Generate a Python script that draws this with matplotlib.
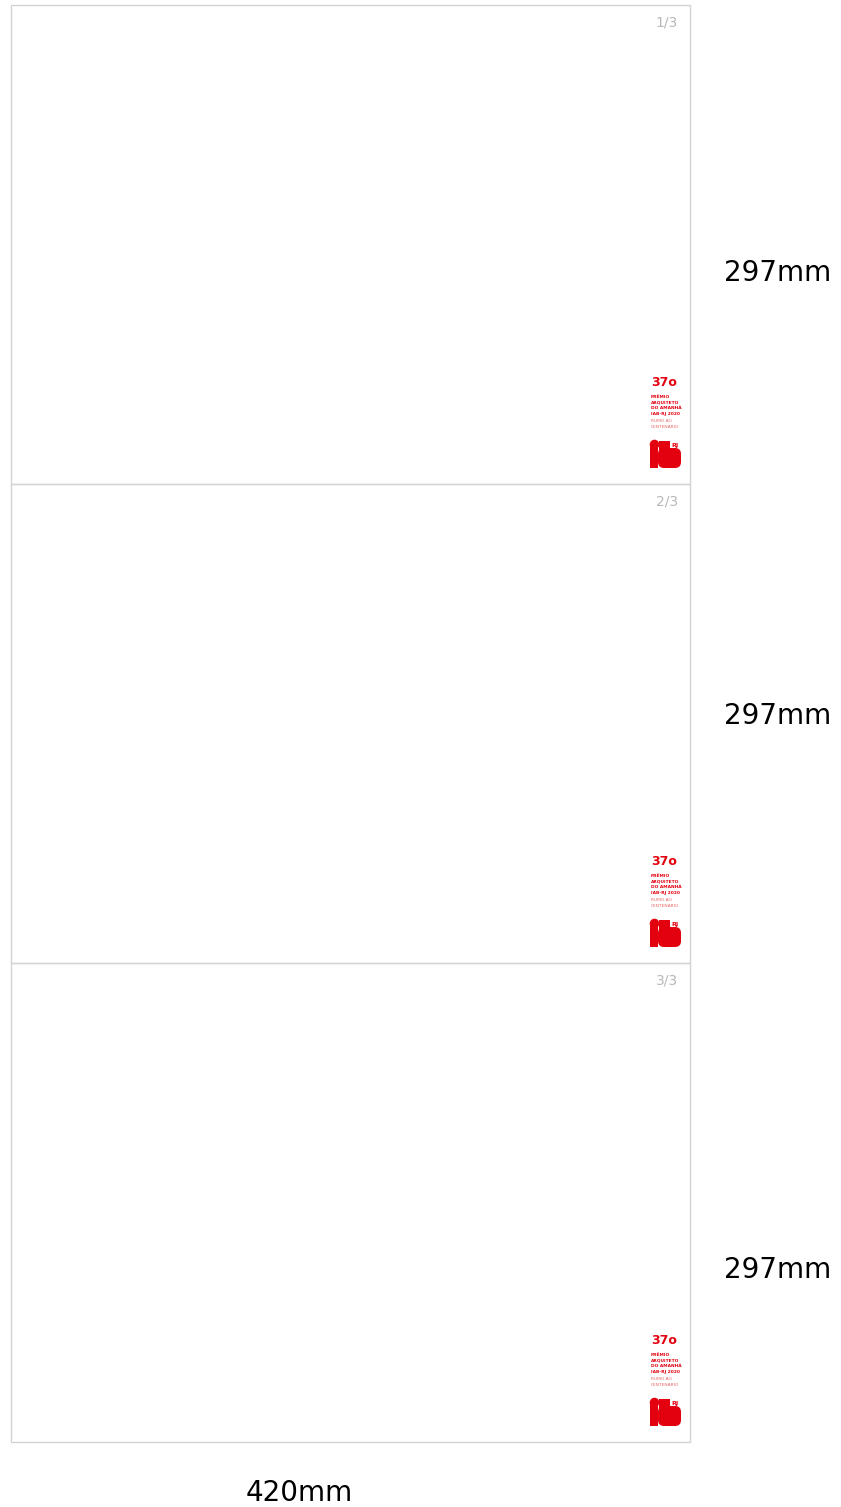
import matplotlib
matplotlib.use("Agg")
import matplotlib.pyplot as plt
from matplotlib.patches import Rectangle, Circle, FancyBboxPatch

# sheet info
PAGE_W_MM = 420
PAGE_H_MM = 297
PAGE_LABELS = ["1/3", "2/3", "3/3"]
HEIGHT_LABELS = ["297mm", "297mm", "297mm"]
WIDTH_LABEL = "420mm"
LOGO_TITLE = "37o"
LOGO_LINES = ["PRÊMIO", "ARQUITETO", "DO AMANHÃ", "IAB-RJ 2020"]
LOGO_SUB = ["RUMO AO", "CENTENÁRIO"]

# layout in pixels
W, H = 841, 1507
LEFT, TOP = 11, 5
SCALE_X = 1.6167  # px per mm
SCALE_Y = 1.6128
HEIGHT_LABEL_Y = [273, 716, 1270]
RED = "#e3000f"

fig = plt.figure(figsize=(W / 100, H / 100), dpi=100)
ax = fig.add_axes([0, 0, 1, 1])
ax.set_xlim(0, W)
ax.set_ylim(H, 0)
ax.axis("off")

pw = PAGE_W_MM * SCALE_X
ph = PAGE_H_MM * SCALE_Y

for i, label in enumerate(PAGE_LABELS):
    top = TOP + i * ph
    right = LEFT + pw
    ax.add_patch(Rectangle((LEFT, top), pw, ph, fill=False,
                           edgecolor="#d4d4d4", linewidth=1.0))
    ax.text(right - 12, top + 17, label, ha="right", va="center",
            fontsize=10, color="#b8b8b8")

    # logo block (offsets from page top-right)
    ax.text(right - 39, top + 377, LOGO_TITLE, ha="left", va="center",
            fontsize=9, fontweight="bold", color=RED)
    for j, line in enumerate(LOGO_LINES):
        ax.text(right - 39, top + 392 + j * 5.5, line, ha="left", va="center",
                fontsize=3.2, fontweight="bold", color=RED)
    for j, line in enumerate(LOGO_SUB):
        ax.text(right - 39, top + 416 + j * 6, line, ha="left", va="center",
                fontsize=3.2, color="#e86a6a")

    lx = right - 40
    ly = top + 434
    ax.add_patch(Circle((lx + 4.5, ly + 5.5), 4.8, color=RED, lw=0))
    ax.add_patch(Rectangle((lx, ly + 6), 8, 23, color=RED, lw=0))
    ax.add_patch(Rectangle((lx + 9, ly + 2), 11, 12, color=RED, lw=0))
    ax.add_patch(FancyBboxPatch((lx + 11, ly + 12), 17, 14,
                                boxstyle="round,pad=3,rounding_size=6",
                                color=RED, lw=0))
    ax.text(lx + 25, ly + 6, "RJ", ha="center", va="center",
            fontsize=4.5, fontweight="bold", color=RED)

for y, label in zip(HEIGHT_LABEL_Y, HEIGHT_LABELS):
    ax.text(778, y, label, ha="center", va="center", fontsize=20,
            color="black")

ax.text(299, 1493, WIDTH_LABEL, ha="center", va="center", fontsize=20,
        color="black")

fig.savefig("out.png", dpi=100, facecolor="white")
